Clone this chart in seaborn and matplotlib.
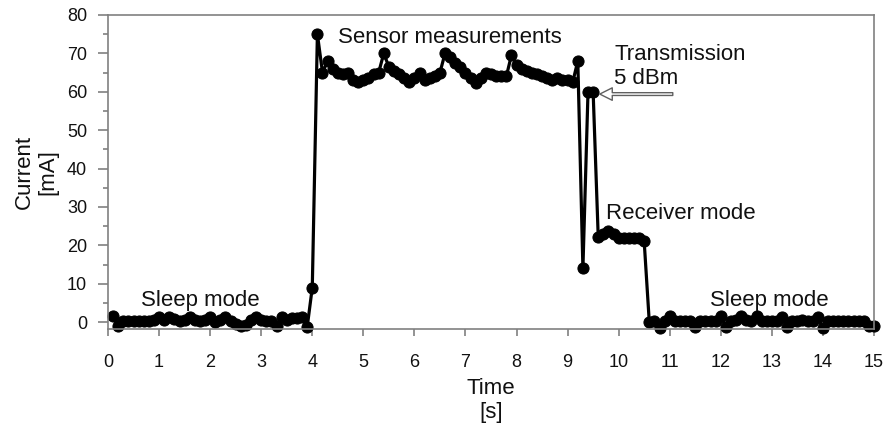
import numpy as np
import pandas as pd
import matplotlib
matplotlib.use("Agg")
import matplotlib.pyplot as plt
from matplotlib.ticker import MultipleLocator
import seaborn as sns

# ---- data ----
sample_step_s = 0.1
sleep_before = [1.5, -1.0, 0.3, 0.3, 0.3, 0.3, 0.3, 0.3, 0.5, 1.3,
                0.5, 1.3, 0.8, 0.3, 0.5, 1.3, 0.5, 0.3, 0.5, 1.2,
                0.0, 0.5, 1.2, 0.3, -0.5, -1.0, -0.8, 0.5, 1.2, 0.5,
                0.3, 0.2, -1.0, 1.3, 0.5, 1.0, 1.0, 1.3, -1.3]
wake_up = [9.0, 75.0]
sensor = [65, 68, 66, 65, 64.5, 65, 63, 62.5, 63, 63.5,
          64.5, 65, 70, 66.5, 65.5, 64.5, 63.5, 62.5, 63.5, 65,
          63, 63.5, 64, 65, 70, 69, 67.5, 66.5, 65, 63.5,
          62.3, 63.5, 65, 64.5, 64, 64, 64, 69.5, 67, 66,
          65.5, 65, 64.5, 64, 63.5, 63, 63.5, 63, 63, 62.5]
transmission = [68.0, 14.0, 60.0, 60.0]
receiver = [22.2, 23.0, 23.8, 23.0, 22.0, 21.8, 21.8, 21.8, 21.8, 21.0]
sleep_after = [0.0, 0.2, -1.5, 0.3, 1.5, 0.3, 0.2, 0.2, 0.2, -1.3,
               0.2, 0.3, 0.2, 0.3, 1.5, -1.2, 0.3, 0.5, 1.5, 0.5,
               0.3, 1.5, 0.3, 0.2, 0.3, 0.3, 1.3, -1.2, 0.3, 0.3,
               0.5, 0.3, 0.3, 1.2, -1.5, 0.3, 0.3, 0.3, 0.3, 0.3,
               0.3, 0.3, 0.2, -1.0, -1.0]

current_mA = sleep_before + wake_up + sensor + transmission + receiver + sleep_after
time_s = [round(sample_step_s * (k + 1), 1) for k in range(len(current_mA))]

x_ticks = list(range(0, 16))
y_ticks = list(range(0, 90, 10))

df = pd.DataFrame({"Time": time_s, "Current": current_mA})

# ---- style ----
sns.set_style("white")
plt.rcParams["font.family"] = ["Liberation Sans", "DejaVu Sans"]

fig = plt.figure(figsize=(8.87, 4.32), dpi=100)
ax = fig.add_axes([0.1218, 0.2384, 0.8635, 0.7269])

sns.lineplot(data=df, x="Time", y="Current", ax=ax, estimator=None,
             color="black", linewidth=2.3, marker="o", markersize=8,
             markeredgecolor="black", markerfacecolor="black", clip_on=False)

ax.set_xlim(0, 15)
ax.set_ylim(-1.8, 80)
ax.set_xticks(x_ticks)
ax.set_yticks(y_ticks)
ax.yaxis.set_minor_locator(MultipleLocator(5))

spine_col = "#808080"
for s in ax.spines.values():
    s.set_color(spine_col)
    s.set_linewidth(1.2)

ax.tick_params(axis="x", which="major", direction="out", length=5,
               width=1.2, color=spine_col, labelsize=13, labelcolor="#111111",
               bottom=True, pad=13)
ax.tick_params(axis="y", which="major", direction="out", length=7,
               width=1.2, color=spine_col, labelsize=13, labelcolor="#111111",
               left=True, pad=8)
ax.tick_params(axis="y", which="minor", direction="out", length=3.6,
               width=1.2, color=spine_col, left=True)

ax.set_xlabel("Time\n[s]", fontsize=16, labelpad=5, color="#111111")
ax.set_ylabel("Current\n[mA]", fontsize=16, labelpad=6, color="#111111")

txt = dict(fontsize=16, color="#111111", va="center", ha="left")
ax.text(0.65, 5.7, "Sleep mode", **txt)
ax.text(11.79, 5.7, "Sleep mode", **txt)
ax.text(4.5, 74.2, "Sensor measurements", **txt)
ax.text(9.91, 66.6, "Transmission\n5 dBm", linespacing=1.2, **txt)
ax.text(9.75, 28.4, "Receiver mode", **txt)

ax.annotate("", xy=(9.63, 59.4), xytext=(11.06, 59.4),
            arrowprops=dict(arrowstyle="simple,head_length=0.9,head_width=0.9,tail_width=0.2",
                            fc="white", ec="#606060", lw=1.0,
                            shrinkA=0, shrinkB=0))

fig.savefig("out.png", dpi=100)
